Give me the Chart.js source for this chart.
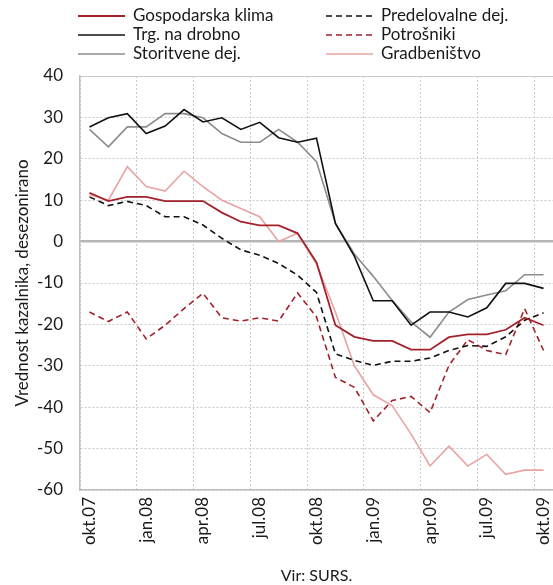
<!DOCTYPE html>
<html>
<head>
<meta charset="utf-8">
<script src="https://cdn.jsdelivr.net/npm/chart.js@4.4.1/dist/chart.umd.min.js"></script>
<style>
    html, body { margin: 0; padding: 0; background: #fff; overflow: hidden; }
    #wrap { width: 553px; height: 585px; position: relative; }
</style>
</head>
<body>
<div id="wrap"><canvas id="grafico"></canvas></div>
<script>
// meseci okt.07 - okt.09
const meseci = ['okt.07', 'nov.07', 'dec.07', 'jan.08', 'feb.08', 'mar.08', 'apr.08', 'maj.08', 'jun.08',
    'jul.08', 'avg.08', 'sep.08', 'okt.08', 'nov.08', 'dec.08', 'jan.09', 'feb.09', 'mar.09', 'apr.09',
    'maj.09', 'jun.09', 'jul.09', 'avg.09', 'sep.09', 'okt.09'];

const gospodarskaKlima = [11.8, 9.8, 10.8, 10.8, 9.8, 9.8, 9.8, 7.0, 4.8, 3.9, 3.9, 2.0, -5.0,
    -20.2, -23.0, -24.0, -24.0, -26.1, -26.1, -23.1, -22.4, -22.4, -21.3, -18.4, -20.2];
const trgNaDrobno = [27.7, 29.9, 30.9, 26.1, 27.9, 31.9, 28.9, 29.9, 27.1, 28.8, 25.1, 24.0, 25.0,
    4.4, -3.5, -14.3, -14.3, -20.2, -17.0, -17.0, -18.2, -16.0, -10.1, -10.1, -11.3];
const storitveneDej = [27.1, 22.9, 27.7, 27.7, 30.9, 30.9, 29.9, 26.1, 24.0, 24.0, 27.1, 24.0, 19.3,
    4.4, -3.0, -8.4, -14.2, -19.4, -23.1, -17.0, -14.0, -12.9, -11.9, -8.0, -8.0];
const predelovalneDej = [10.8, 8.7, 9.7, 8.7, 6.0, 6.0, 4.0, 0.8, -2.0, -3.3, -5.3, -8.1, -12.3,
    -27.1, -28.7, -29.9, -28.9, -28.9, -28.1, -26.3, -25.1, -25.3, -23.0, -19.0, -17.2];
const potrosniki = [-17.0, -19.3, -17.0, -23.5, -20.2, -16.2, -12.5, -18.4, -19.2, -18.4, -19.2, -12.4, -18.2,
    -32.8, -35.2, -43.3, -38.4, -37.4, -41.3, -29.9, -23.7, -26.3, -27.3, -16.2, -26.3];
const gradbenistvo = [11.4, 10.0, 18.1, 13.3, 12.2, 17.0, 13.3, 10.0, 8.0, 6.0, 0.0, 2.0, -5.4,
    -17.0, -30.0, -37.0, -39.6, -46.5, -54.2, -49.4, -54.2, -51.4, -56.2, -55.2, -55.2];

const yMin = -60, yMax = 40, yKorak = 10;

const rdeca = '#a3212b';
const crna = '#111111';
const siva = '#8c8c8c';
const roza = '#e8a3a3';
const mreza = '#c9c9c9';
const pisava = 'Lato';

// legenda v dveh stolpcih
const legendaPlugin = {
    id: 'legenda',
    afterDraw(chart) {
        const ctx = chart.ctx;
        const stolpciX = [78, 326];
        const vrsticeY = [16, 35, 54];
        chart.data.datasets.forEach((ds, i) => {
            const x = stolpciX[Math.floor(i / 3)];
            const y = vrsticeY[i % 3];
            ctx.save();
            ctx.strokeStyle = ds.borderColor;
            ctx.lineWidth = ds.borderWidth;
            ctx.setLineDash(ds.borderDash || []);
            ctx.beginPath();
            ctx.moveTo(x, y);
            ctx.lineTo(x + 47, y);
            ctx.stroke();
            ctx.restore();
            ctx.save();
            ctx.fillStyle = '#1a1a1a';
            ctx.font = '17px ' + pisava;
            ctx.textBaseline = 'middle';
            ctx.fillText(ds.label, x + 55, y);
            ctx.restore();
        });
    }
};

function serija(label, data, color, dash, width) {
    return {
        label: label,
        data: data,
        borderColor: color,
        backgroundColor: color,
        borderWidth: width,
        borderDash: dash,
        pointRadius: 0,
        tension: 0,
        fill: false
    };
}

Chart.defaults.font.family = pisava;
Chart.defaults.color = '#1a1a1a';

new Chart(document.getElementById('grafico').getContext('2d'), {
    type: 'line',
    data: {
        labels: meseci,
        datasets: [
            serija('Gospodarska klima', gospodarskaKlima, rdeca, [], 1.8),
            serija('Trg. na drobno', trgNaDrobno, crna, [], 1.6),
            serija('Storitvene dej.', storitveneDej, siva, [], 1.6),
            serija('Predelovalne dej.', predelovalneDej, crna, [6, 4], 1.6),
            serija('Potrošniki', potrosniki, rdeca, [6, 4], 1.6),
            serija('Gradbeništvo', gradbenistvo, roza, [], 1.6)
        ]
    },
    options: {
        responsive: true,
        maintainAspectRatio: false,
        animation: false,
        devicePixelRatio: 1,
        layout: { padding: { top: 76, left: 0, right: 0, bottom: 0 } },
        plugins: {
            legend: { display: false },
            tooltip: { enabled: false }
        },
        scales: {
            x: {
                offset: true,
                grid: {
                    offset: true,
                    drawTicks: false,
                    color: c => (c.index % 3 === 0 ? mreza : 'transparent'),
                    lineWidth: 1
                },
                border: { display: true, color: '#bdbdbd', width: 1.5, dash: [2, 2] },
                ticks: {
                    autoSkip: false,
                    minRotation: 90,
                    maxRotation: 90,
                    padding: 7,
                    font: { size: 17 },
                    callback: function (v, i) {
                        return i % 3 === 0 ? this.getLabelForValue(v) : '';
                    }
                },
                title: {
                    display: true,
                    text: 'Vir: SURS.',
                    font: { size: 16 },
                    padding: { top: 0, bottom: 0 }
                },
                afterFit: s => {
                    s.height = 95;
                    s.paddingLeft = 0;
                    s.paddingRight = 0;
                }
            },
            y: {
                min: yMin,
                max: yMax,
                ticks: { stepSize: yKorak, padding: 17, font: { size: 17 } },
                grid: {
                    drawTicks: false,
                    color: c => (c.tick && c.tick.value === 0 ? '#b5b5b5' : mreza),
                    lineWidth: c => (c.tick && c.tick.value === 0 ? 2.5 : 1)
                },
                border: {
                    display: true,
                    color: '#bdbdbd',
                    width: 1.5,
                    dash: c => (c.tick && (c.tick.value === 0 || c.tick.value === yMax) ? [] : [2, 2])
                },
                title: {
                    display: true,
                    text: 'Vrednost kazalnika, desezonirano',
                    font: { size: 17 },
                    padding: { top: 12, bottom: 0 }
                },
                afterFit: s => { s.width = 80; }
            }
        }
    },
    plugins: [legendaPlugin]
});
</script>
</body>
</html>
